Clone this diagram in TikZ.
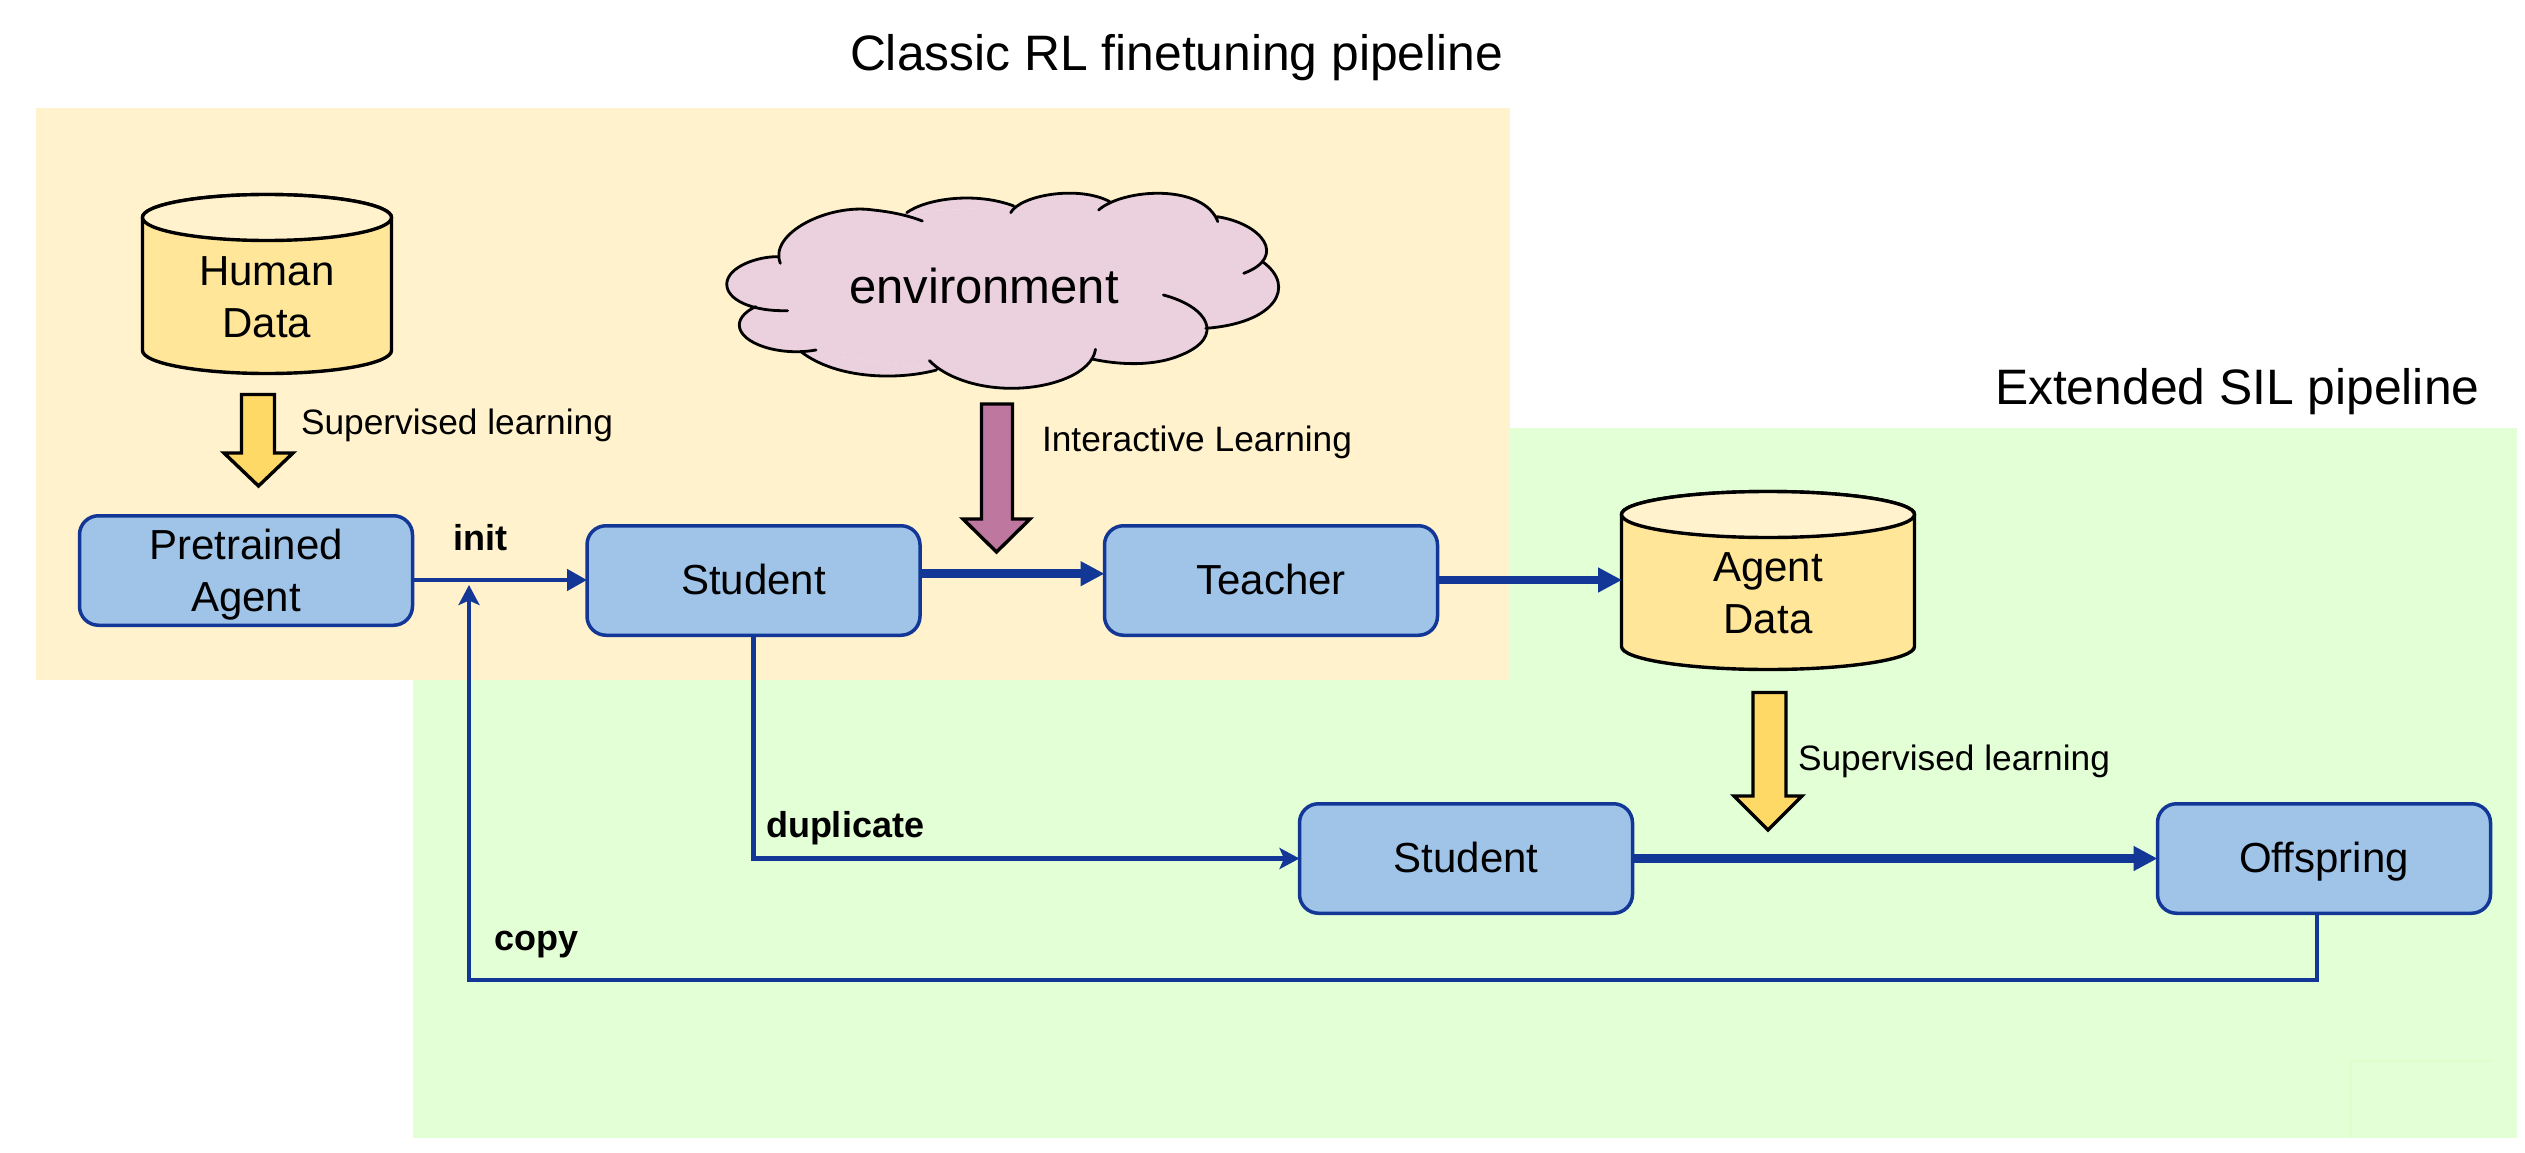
\documentclass[tikz,border=0pt]{standalone}
\usepackage{fontspec}
\setmainfont{Liberation Sans}
\usetikzlibrary{arrows.meta,calc}
\definecolor{bgyellow}{HTML}{FFF2CC}
\definecolor{bggreen}{HTML}{E3FFD6}
\definecolor{faintgreen}{HTML}{DCFFCC}
\definecolor{boxblue}{HTML}{9FC4E8}
\definecolor{lineblue}{HTML}{123796}
\definecolor{cylyellow}{HTML}{FFE699}
\definecolor{arrowyellow}{HTML}{FFD966}
\definecolor{arrowpurple}{HTML}{BE779E}
\definecolor{cloudpink}{HTML}{EBD1DD}
\newcommand{\fs}[1]{\fontsize{#1pt}{52pt}\selectfont}
\newcommand{\cloudoutline}{
  (292,310) .. controls (265,220) and (400,130) .. (500,150) .. controls (550,157) and (585,170) .. (610,183)
  (575,158) .. controls (620,115) and (730,95) .. (815,138)
  (808,158) .. controls (830,105) and (960,75) .. (1030,125)
  (1005,150) .. controls (1060,85) and (1240,70) .. (1272,185)
  (1270,170) .. controls (1370,190) and (1430,290) .. (1330,340)
  (1372,305) .. controls (1450,380) and (1400,490) .. (1245,505)
  (1150,405) .. controls (1250,440) and (1290,530) .. (1190,585) .. controls (1130,620) and (1050,615) .. (990,597)
  (998,568) .. controls (990,640) and (900,685) .. (810,685) .. controls (730,685) and (660,650) .. (626,602)
  (642,630) .. controls (560,660) and (420,660) .. (338,575)
  (372,570) .. controls (290,590) and (200,550) .. (200,495) .. controls (200,470) and (220,450) .. (237,440)
  (308,452) .. controls (230,455) and (170,420) .. (172,370) .. controls (175,320) and (240,290) .. (285,290)
}
% \blockarrow{fill}{left}{right}{top}{headstart}{headleft}{headright}{tip}
\newcommand{\blockarrow}[8]{
  \draw[blockshape,fill=#1] (#2,#4) -- (#3,#4) -- (#3,#5) -- (#7,#5)
     -- ({(#6+#7)/2},#8) -- (#6,#5) -- (#2,#5) -- cycle;
}
% \datacyl{name}{cx}{top}{bottom}{rx}{text}{text centre y}
\newcommand{\datacyl}[7]{
  \draw[cylshape,fill=cylyellow] (#2-#5,#3+23) -- (#2-#5,#4-23)
     arc[start angle=180,end angle=360,x radius=#5,y radius=-23]
     -- (#2+#5,#3+23)
     arc[start angle=0,end angle=180,x radius=#5,y radius=-23] -- cycle;
  \draw[cylshape,fill=bgyellow] (#2,#3+23) ellipse[x radius=#5,y radius=23];
  \node[plainlabel,align=center,font=\fs{42}] (#1) at (#2,#7) {#6};
}
\tikzset{
  x=1pt,y=-1pt,
  plainlabel/.style={inner sep=0pt,outer sep=0pt,text=black},
  agentbox/.style={draw=lineblue,fill=boxblue,line width=3.5pt,rounded corners=19pt,
     minimum width=333pt,minimum height=109.5pt,inner sep=0pt,outer sep=0pt,align=center,font=\fs{42}},
  oneline/.style={text height=27pt,text depth=0pt},
  blockshape/.style={draw=black,line width=3.4pt,miter limit=10},
  cylshape/.style={draw=black,line width=3.4pt},
  thinflow/.style={draw=lineblue,line width=4.7pt,-{Triangle[length=20pt,width=21pt]}},
  thinback/.style={draw=lineblue,line width=4.7pt,-{Stealth[length=20pt,width=21pt,inset=4.5pt]}},
  thickflow/.style={draw=lineblue,line width=8.7pt,-{Triangle[length=24pt,width=23.5pt]}},
  smallcap/.style={plainlabel,font=\fs{35.3},anchor=base west},
  boldcap/.style={plainlabel,font=\fs{36}\bfseries,anchor=base west},
  titlecap/.style={plainlabel,font=\fs{49.8},anchor=base west}
}
\begin{document}
\begin{tikzpicture}
\useasboundingbox (0,0) rectangle (2525,1153);
% background panels
\fill[bggreen] (413,427.5) rectangle (2517,1138);
\fill[bgyellow] (36,108) rectangle (1510,680);
\draw[faintgreen,line width=2pt] (2351,1138) -- (2351,1061) -- (2493,1061);
% titles
\node[titlecap] (classictitle) at (850,71) {Classic RL finetuning pipeline};
\node[titlecap] (siltitle) at (1995,404) {Extended SIL pipeline};
% data stores
\datacyl{humandata}{267}{194.5}{373.5}{124.5}{Human\\Data}{297}
\datacyl{agentdata}{1768}{491.5}{669.5}{146.5}{Agent\\Data}{593}
% cloud
\begin{scope}[shift={(650,160)},x=0.4464pt,y=-0.3333pt]
  \fill[cloudpink] (285,290) -- (575,158) -- (815,138) -- (1030,125) -- (1272,185)
     -- (1372,305) -- (1245,505) -- (990,597) -- (810,685) -- (642,630) -- (338,575)
     -- (237,440) -- cycle;
  \fill[cloudpink] \cloudoutline;
  \draw[black,line width=2.8pt,line cap=round] \cloudoutline;
\end{scope}
\node[plainlabel,font=\fs{49}] (environment) at (984,286) {environment};
% block arrows
\blockarrow{arrowyellow}{241.5}{274.5}{394.5}{453}{224}{293}{486}
\blockarrow{arrowpurple}{981.5}{1012.5}{404}{519}{963}{1030}{552}
\blockarrow{arrowyellow}{1753}{1786}{692.5}{796}{1734}{1802}{830}
% boxes
\node[agentbox] (pretrained) at (246,570.5) {};
\node[plainlabel,align=center,font=\fs{42}] (pretrainedtext) at (246,574.5) {Pretrained\\Agent};
\node[agentbox,oneline] (student) at (753.5,580.5) {Student};
\node[agentbox,oneline] (teacher) at (1271,580.5) {Teacher};
\node[agentbox,oneline] (studenttwo) at (1466,858.5) {Student};
\node[agentbox,oneline] (offspring) at (2324,858.5) {Offspring};
% free ends and corners
\coordinate (copycorner) at (469,980);
\coordinate (copyend) at (469,585);
\coordinate (agentleft) at (1622,580);
\coordinate (initrow) at (0,580);
\coordinate (teachrow) at (0,573.7);
% connectors
\draw[thinflow] (pretrained.east |- initrow) -- (student.west |- initrow);
\draw[thickflow] (student.east |- teachrow) -- (teacher.west |- teachrow);
\draw[thickflow] (teacher.east |- agentleft) -- (agentleft);
\draw[thickflow] (studenttwo.east) -- (offspring.west);
\draw[thinback] (student.south) -- (student.south |- studenttwo.west) -- (studenttwo.west);
\draw[thinback] ([xshift=-7pt]offspring.south) -- ([xshift=-7pt]offspring.south |- copycorner) -- (copycorner) -- (copyend);
% labels
\node[smallcap] (suplearnone) at (301,434) {Supervised learning};
\node[smallcap] (interactive) at (1042,451) {Interactive Learning};
\node[smallcap] (suplearntwo) at (1798,770) {Supervised learning};
\node[boldcap] (initlabel) at (453,550) {init};
\node[boldcap] (duplabel) at (766,837) {duplicate};
\node[boldcap] (copylabel) at (494,950) {copy};
\end{tikzpicture}
\end{document}
